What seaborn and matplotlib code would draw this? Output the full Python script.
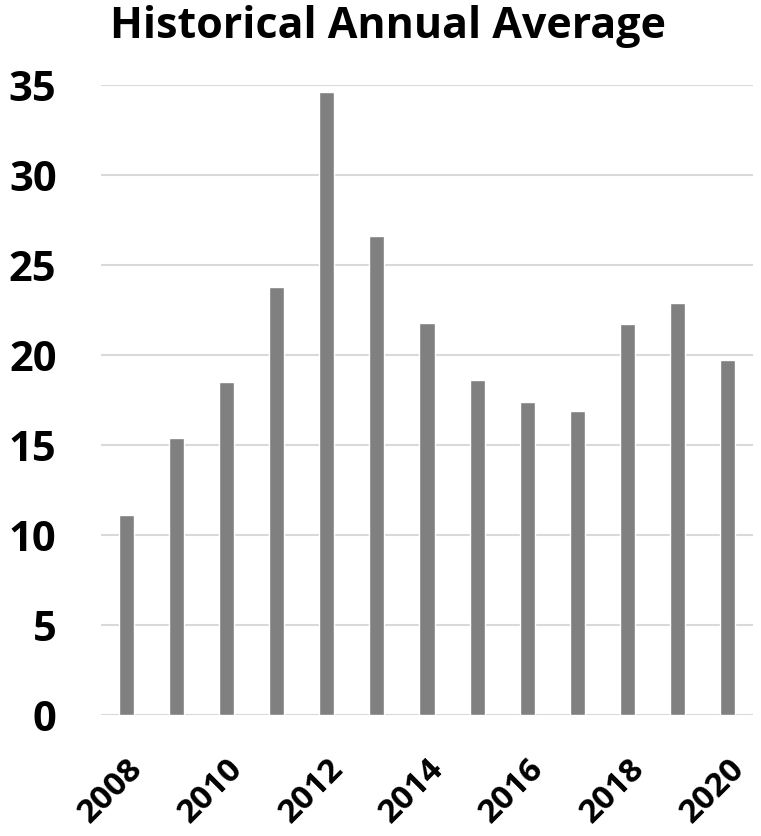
import matplotlib
matplotlib.use("Agg")
import matplotlib.pyplot as plt
import seaborn as sns
import pandas as pd

# 年平均値
years = [2008, 2009, 2010, 2011, 2012, 2013, 2014, 2015, 2016, 2017, 2018, 2019, 2020]
values = [11.1, 15.4, 18.5, 23.8, 34.6, 26.6, 21.8, 18.6, 17.4, 16.9, 21.7, 22.9, 19.7]
tick_years = [2008, 2010, 2012, 2014, 2016, 2018, 2020]

sns.set_theme(style="white", rc={"text.color": "black", "xtick.color": "black",
                                 "ytick.color": "black"})
plt.rcParams["font.family"] = ["Open Sans", "DejaVu Sans"]

df = pd.DataFrame({"year": [str(y) for y in years], "value": values})

fig = plt.figure(figsize=(7.61, 8.36), dpi=100)
ax = fig.add_axes([0.1327, 0.1447, 0.8568, 0.7536])
sns.barplot(data=df, x="year", y="value", color="#808080", saturation=1,
            width=0.3, errorbar=None, ax=ax)

ax.set_ylim(0, 35)
ax.set_xlim(-0.5, len(years) - 0.5)
ax.set_yticks(range(0, 36, 5))
ax.yaxis.grid(True, color="#d9d9d9", linewidth=1.5)
ax.set_axisbelow(True)
for s in ax.spines.values():
    s.set_visible(False)

pos = [years.index(y) for y in tick_years]
ax.set_xticks(pos)
ax.set_xticklabels([str(y) for y in tick_years], rotation=45, ha="right",
                   rotation_mode="anchor", fontsize=24, fontweight="bold")
ax.tick_params(axis="x", length=0, pad=27)
ax.tick_params(axis="y", length=0, pad=32, labelsize=30)
for t in ax.get_yticklabels():
    t.set_fontweight("bold")
ax.set_xlabel("")
ax.set_ylabel("")

fig.text(0.51, 0.968, "Historical Annual Average", ha="center", va="center",
         fontsize=31, fontweight="bold")

fig.savefig("out.png", dpi=100)
